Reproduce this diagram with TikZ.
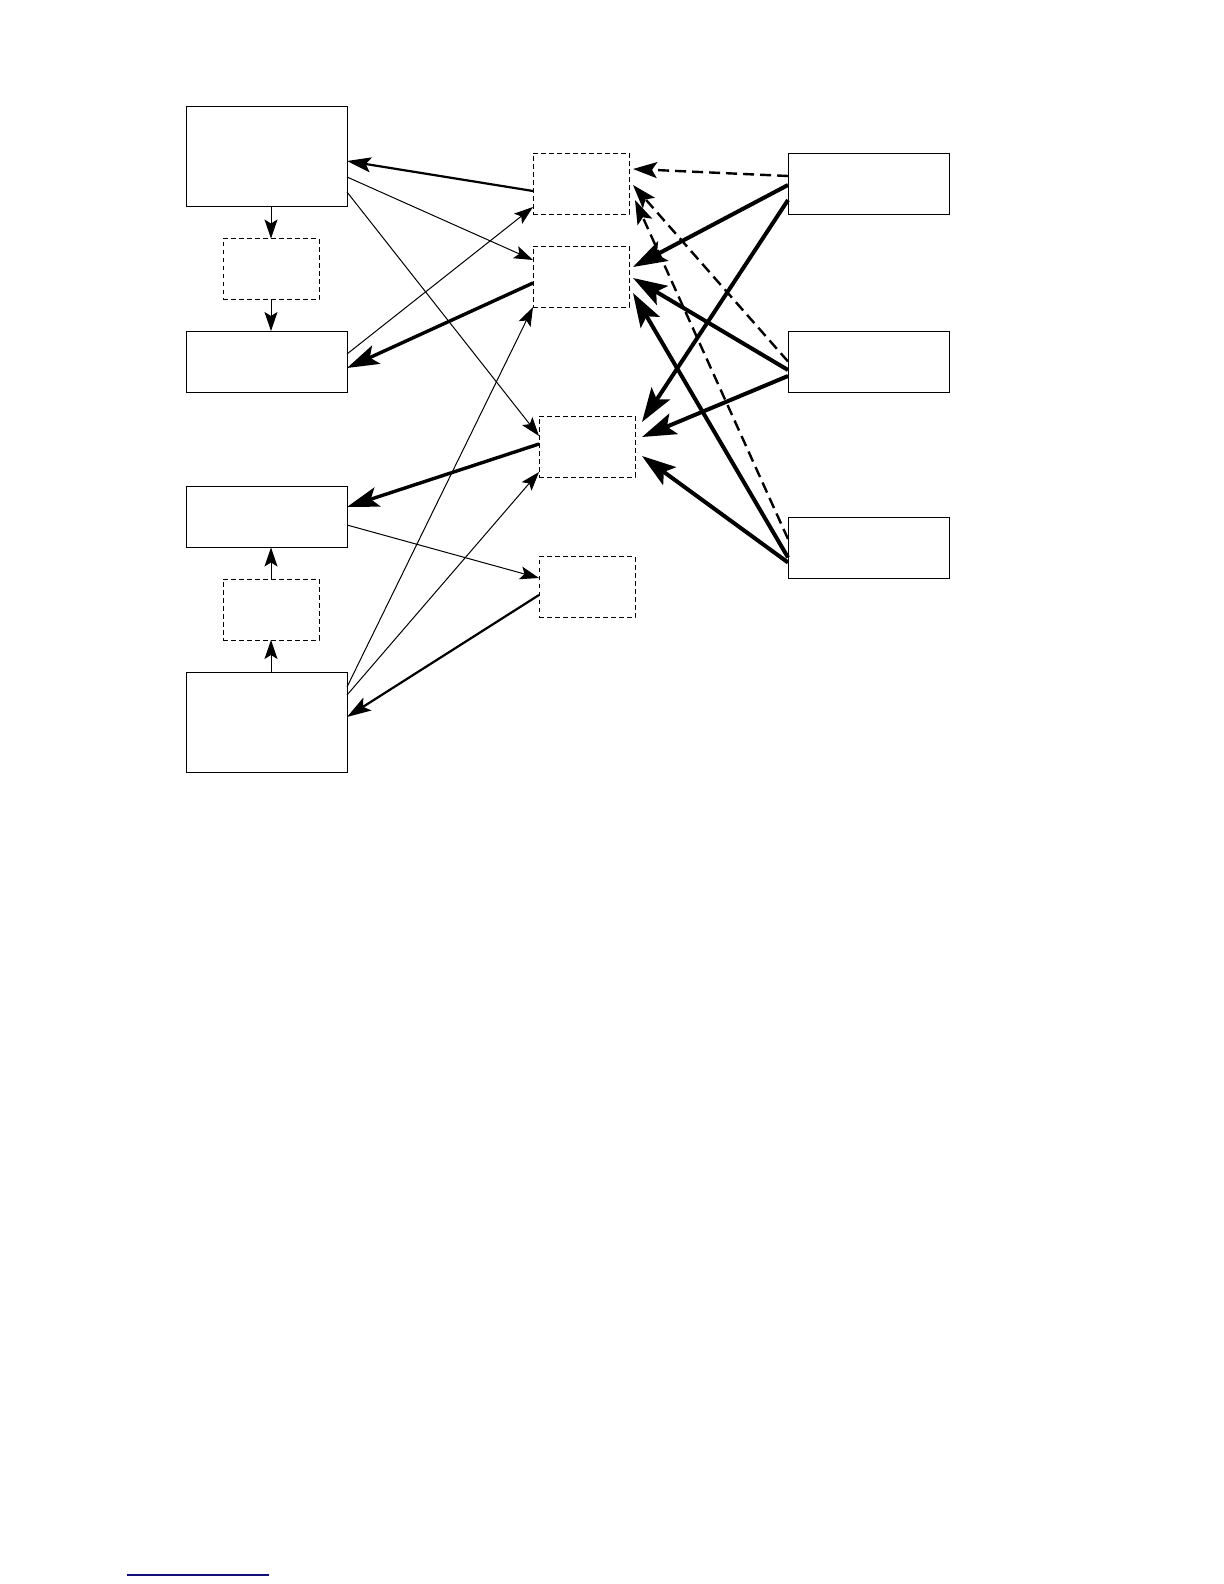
\documentclass[tikz,border=0pt]{standalone}
\usepackage{tikz}
\usetikzlibrary{arrows.meta,calc}
\definecolor{rulenavy}{RGB}{16,16,120}

\begin{document}
\begin{tikzpicture}[x=0.5pt, y=-0.5pt,
  blk/.style={draw, line width=0.5pt, inner sep=0pt, outer sep=0pt, minimum width=80.5pt, minimum height=30.5pt},
  dbox/.style={draw, line width=0.5pt, dash pattern=on 2.4pt off 1.6pt, inner sep=0pt, outer sep=0pt, minimum width=48pt, minimum height=30.5pt},
  thn/.style={-{Stealth[length=9.5pt, width=6.5pt, inset=2pt]}, line width=0.5pt},
  med/.style={-{Stealth[length=12pt, width=7.5pt, inset=2.5pt]}, line width=1.1pt},
  hvy/.style={-{Stealth[length=16pt, width=10pt, inset=3.5pt]}, line width=1.7pt},
  xhvy/.style={-{Stealth[length=17pt, width=11pt, inset=3.5pt]}, line width=2pt},
  dsh/.style={-{Stealth[length=12pt, width=8pt, inset=2.5pt]}, line width=1.2pt, dash pattern=on 5.5pt off 3pt}]
\useasboundingbox (0,0) rectangle (1224,1584);
\node[blk, minimum height=49.5pt] (A) at (266.5,156.5) {};
\node[dbox] (D1) at (271,269) {};
\node[blk] (B) at (266.5,361.5) {};
\node[blk] (C) at (266.5,517) {};
\node[dbox] (D2) at (271,609.5) {};
\node[blk, minimum height=50pt] (E) at (266.5,722) {};
\node[dbox] (M1) at (581,183.5) {};
\node[dbox] (M2) at (581,276.5) {};
\node[dbox] (M3) at (587,446.5) {};
\node[dbox] (M4) at (587,587) {};
\node[blk] (R1) at (868.5,183.5) {};
\node[blk] (R2) at (868.5,361.5) {};
\node[blk] (R3) at (868.5,547.5) {};
\draw[thn] (D1.north |- A.south) -- (D1.north); \draw[thn] (D1.south) -- (D1.south |- B.north);
\draw[thn] (D2.north) -- (D2.north |- C.south); \draw[thn] (D2.south |- E.north) -- (D2.south);
\draw[med] ($(M1.west)+(0,7.5)$) -- ($(A.east)+(0,4.5)$);
\draw[thn] ($(A.east)+(0,20.5)$) -- ($(M2.west)+(0,-16.5)$);
\draw[thn] ($(A.east)+(0,35.5)$) -- ($(M3.west)+(0,-10.5)$);
\draw[thn] ($(B.east)+(0,-7.5)$) -- ($(M1.west)+(0,23.5)$);
\draw[hvy] ($(M2.west)+(0,6.5)$) -- ($(B.east)+(0,6.5)$);
\draw[thn] ($(E.east)+(0,-35)$) -- (M2.south west);
\draw[hvy] ($(M3.west)+(0,-2.5)$) -- ($(C.east)+(0,-10)$);
\draw[thn] ($(C.east)+(0,8)$) -- ($(M4.west)+(0,-9)$);
\draw[med] ($(M4.west)+(0,8)$) -- ($(E.east)+(0,-5)$);
\draw[thn] ($(E.east)+(0,-27)$) -- ($(M3.west)+(0,25.5)$);
\draw[dsh] ($(R1.west)+(0,-7.5)$) -- ($(M1.east)+(4,-14.5)$);
\draw[xhvy] ($(R1.west)+(0,1.5)$) -- ($(M2.east)+(4,-9.5)$);
\draw[xhvy] ($(R1.west)+(0,16.5)$) -- ($(M3.east)+(7,-24.5)$);
\draw[xhvy] ($(R2.west)+(0,8.5)$) -- ($(M2.east)+(4,1.5)$);
\draw[xhvy] ($(R2.west)+(0,14.5)$) -- ($(M3.east)+(7,-9.5)$);
\draw[dsh] (R2.west) -- ($(M1.east)+(4,1.5)$);
\draw[dsh] ($(R3.west)+(0,-8.5)$) -- ($(M1.east)+(6,16.5)$);
\draw[xhvy] ($(R3.west)+(0,10)$) -- ($(M2.east)+(4,16.5)$);
\draw[xhvy] ($(R3.west)+(0,15)$) -- ($(M3.east)+(7,9.5)$);
\draw[rulenavy, line width=0.6pt] (127,1575) -- (269,1575);
\end{tikzpicture}
\end{document}
